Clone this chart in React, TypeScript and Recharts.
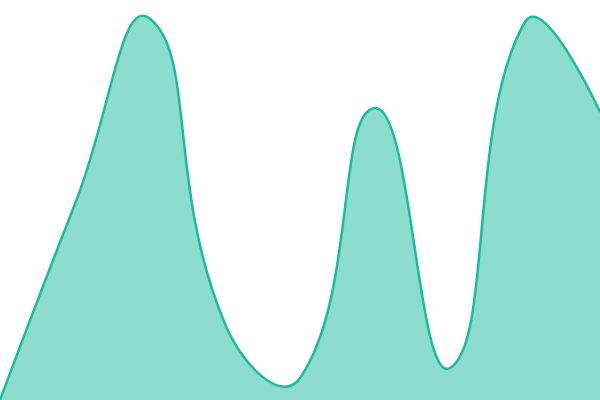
import { AreaChart, Area, XAxis, YAxis } from 'recharts';

const categories = ['A', 'B', 'C', 'D', 'E', 'F', 'G', 'H', 'I'];
const values = [0, 49, 95.3, 19, 5.5, 73, 8, 94.5, 72];

const data = categories.map((name, i) => ({ name, value: values[i] }));

// smooth bezier: control points follow the neighbours (prev -> next), split by segment length
function smoothCurve(smooth: number) {
  return (context: any) => {
    let xs: number[] = [];
    let ys: number[] = [];
    let line = NaN;
    return {
      areaStart() {
        line = 0;
      },
      areaEnd() {
        line = NaN;
      },
      lineStart() {
        xs = [];
        ys = [];
      },
      point(x: number, y: number) {
        xs.push(+x);
        ys.push(+y);
      },
      lineEnd() {
        const n = xs.length;
        if (n) {
          if (line) context.lineTo(xs[0], ys[0]);
          else context.moveTo(xs[0], ys[0]);
          const cps: [number, number][] = [];
          for (let i = 0; i < n; i++) {
            if (i === 0 || i === n - 1) {
              cps.push([xs[i], ys[i]]);
              continue;
            }
            const vx = (xs[i + 1] - xs[i - 1]) * smooth;
            const vy = (ys[i + 1] - ys[i - 1]) * smooth;
            let d0 = Math.hypot(xs[i] - xs[i - 1], ys[i] - ys[i - 1]);
            let d1 = Math.hypot(xs[i + 1] - xs[i], ys[i + 1] - ys[i]);
            const sum = d0 + d1;
            if (sum) {
              d0 /= sum;
              d1 /= sum;
            }
            cps.push([xs[i] - vx * d0, ys[i] - vy * d0]);
            cps.push([xs[i] + vx * d1, ys[i] + vy * d1]);
          }
          let k = 0;
          for (let i = 1; i < n; i++) {
            const a = cps[k++];
            const b = cps[k++];
            context.bezierCurveTo(a[0], a[1], b[0], b[1], xs[i], ys[i]);
          }
        }
        if (line || (line !== 0 && n === 1)) context.closePath();
        line = 1 - line;
      },
    };
  };
}

const curve = smoothCurve(0.5);

export default function App() {
  return (
    <div style={{ position: 'fixed', top: 0, left: 0, width: 600, height: 400, background: '#fff' }}>
      <AreaChart width={600} height={400} data={data} margin={{ top: 0, right: 0, bottom: 0, left: 0 }}>
        <XAxis dataKey="name" hide />
        <YAxis hide domain={[0, 100]} />
        <Area
          type={curve as any}
          dataKey="value"
          stroke="#1abc9c"
          strokeWidth={2.5}
          fill="#1abc9c"
          fillOpacity={0.5}
          activeDot={false}
          isAnimationActive={false}
        />
      </AreaChart>
    </div>
  );
}
